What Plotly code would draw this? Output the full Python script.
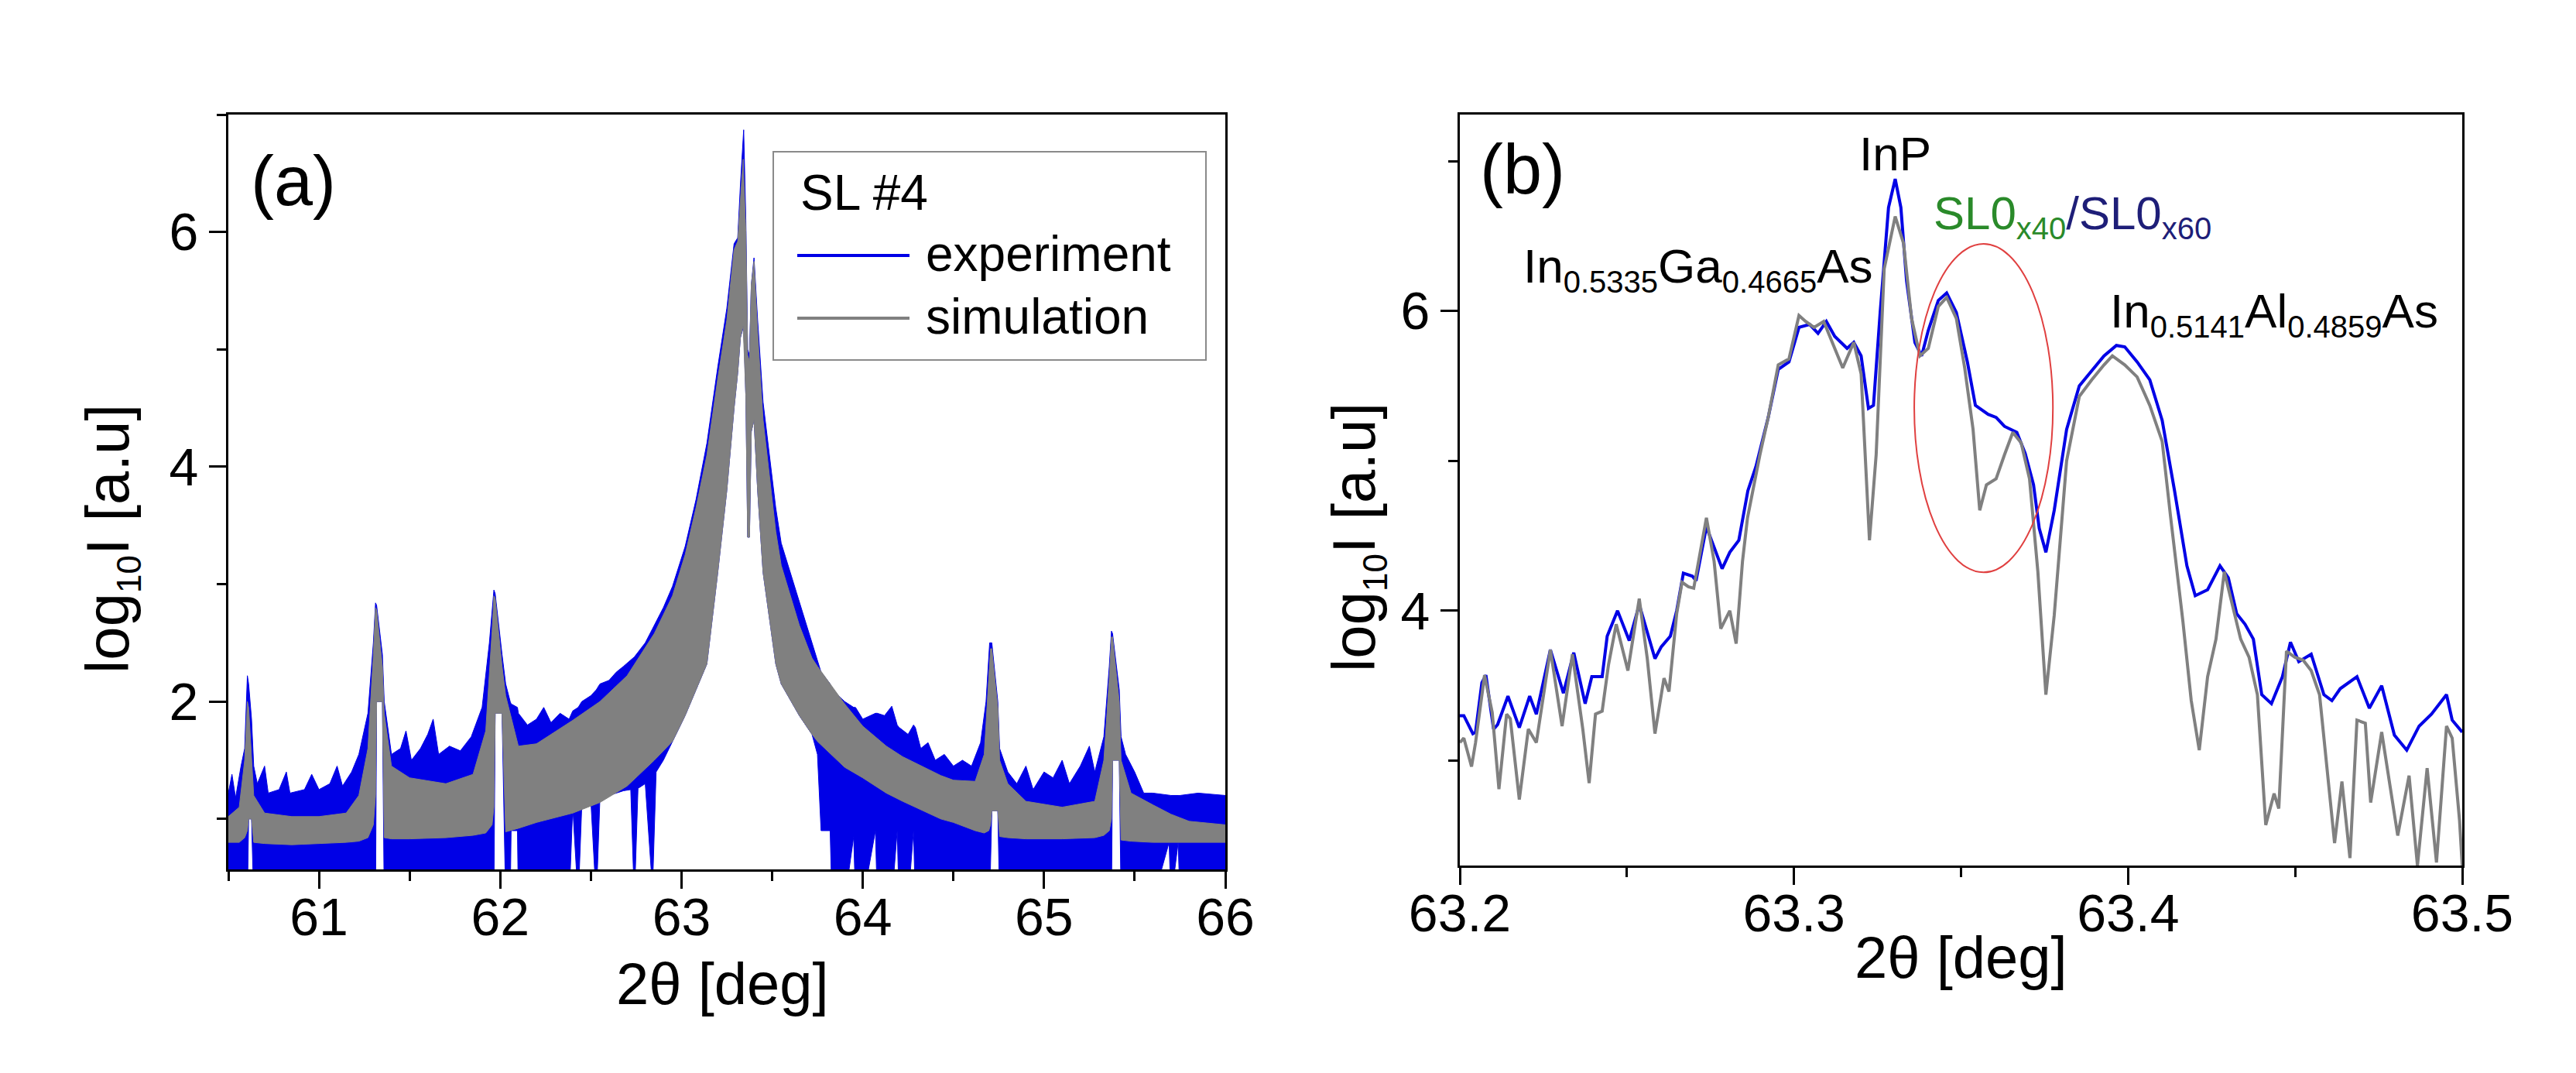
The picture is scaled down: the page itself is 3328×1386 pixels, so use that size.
import plotly.graph_objects as go

# ---- panel (a): envelopes of the dense scans (lower / upper edge of each band) ----
EXP_A_X = [60.50, 60.52, 60.54, 60.57, 60.59, 60.605, 60.612, 60.628, 60.64, 60.66,
           60.70, 60.72, 60.78, 60.82, 60.84, 60.92, 60.96, 61.00, 61.06, 61.10,
           61.13, 61.18, 61.22, 61.27, 61.30, 61.312, 61.318, 61.35, 61.36, 61.40,
           61.45, 61.48, 61.51, 61.56, 61.60, 61.63, 61.66, 61.72, 61.78, 61.84,
           61.90, 61.94, 61.965, 61.972, 62.01, 62.03, 62.055, 62.06, 62.095, 62.10,
           62.15, 62.20, 62.24, 62.28, 62.33, 62.38, 62.40, 62.43, 62.45, 62.50,
           62.53, 62.55, 62.60, 62.64, 62.68, 62.72, 62.74, 62.76, 62.80, 62.84,
           62.86, 62.90, 62.95, 63.02, 63.08, 63.14, 63.20, 63.25, 63.29, 63.31,
           63.325, 63.343, 63.355, 63.365, 63.375, 63.385, 63.40, 63.42, 63.45, 63.52,
           63.55, 63.65, 63.72, 63.75, 63.77, 63.82, 63.83, 63.90, 63.95, 63.96,
           64.00, 64.07, 64.08, 64.12, 64.16, 64.19, 64.20, 64.25, 64.28, 64.29,
           64.32, 64.36, 64.40, 64.45, 64.50, 64.55, 64.60, 64.65, 64.68, 64.70,
           64.712, 64.745, 64.755, 64.80, 64.85, 64.90, 64.94, 65.00, 65.05, 65.10,
           65.14, 65.20, 65.25, 65.28, 65.33, 65.36, 65.372, 65.378, 65.415, 65.425,
           65.45, 65.50, 65.55, 65.60, 65.69, 65.70, 65.74, 65.75, 65.85, 66.00]
EXP_A_LO = [0.30, 0.30, 0.30, 0.30, 0.30, 0.30, 1.00, 1.00, 0.30, 0.30,
            0.30, 0.30, 0.30, 0.30, 0.30, 0.30, 0.30, 0.30, 0.30, 0.30,
            0.30, 0.30, 0.30, 0.30, 0.30, 0.30, 2.00, 2.00, 0.30, 0.30,
            0.30, 0.30, 0.30, 0.30, 0.30, 0.30, 0.30, 0.30, 0.30, 0.30,
            0.30, 0.30, 0.30, 1.90, 1.90, 0.30, 0.30, 0.90, 0.90, 0.30,
            0.30, 0.30, 0.30, 0.30, 0.30, 0.30, 1.10, 0.30, 1.12, 1.15,
            0.30, 1.18, 1.20, 1.22, 1.24, 1.25, 0.30, 1.26, 1.30, 0.40,
            1.40, 1.50, 1.66, 1.88, 2.10, 2.32, 3.10, 3.80, 4.50, 4.80,
            5.10, 5.20, 4.60, 3.40, 3.40, 4.30, 4.40, 3.80, 3.10, 2.32,
            2.15, 1.88, 1.72, 1.55, 0.90, 0.90, 0.30, 0.30, 0.85, 0.30,
            0.30, 0.90, 0.30, 0.30, 0.30, 0.90, 0.30, 0.30, 0.90, 0.30,
            0.30, 0.30, 0.30, 0.30, 0.30, 0.30, 0.30, 0.30, 0.30, 0.30,
            1.07, 1.07, 0.30, 0.30, 0.30, 0.30, 0.30, 0.30, 0.30, 0.30,
            0.30, 0.30, 0.30, 0.30, 0.30, 0.30, 0.30, 1.50, 1.50, 0.30,
            0.30, 0.30, 0.30, 0.30, 0.80, 0.30, 0.80, 0.30, 0.30, 0.30]
EXP_A_HI = [1.22, 1.38, 1.18, 1.45, 1.60, 2.22, 2.15, 1.85, 1.45, 1.30,
            1.45, 1.22, 1.25, 1.40, 1.22, 1.25, 1.38, 1.25, 1.30, 1.45,
            1.28, 1.40, 1.55, 1.90, 2.50, 2.84, 2.82, 2.40, 2.00, 1.55,
            1.60, 1.75, 1.50, 1.60, 1.72, 1.85, 1.55, 1.62, 1.58, 1.70,
            1.95, 2.50, 2.95, 2.92, 2.40, 2.15, 2.00, 1.98, 1.95, 1.90,
            1.80, 1.85, 1.95, 1.82, 1.90, 1.85, 1.92, 1.95, 2.00, 2.05,
            2.10, 2.15, 2.18, 2.25, 2.30, 2.35, 2.38, 2.42, 2.50, 2.62,
            2.68, 2.80, 2.98, 3.32, 3.72, 4.20, 4.85, 5.35, 5.90, 5.95,
            6.40, 6.87, 6.10, 5.00, 4.95, 5.55, 5.78, 5.25, 4.55, 3.65,
            3.35, 2.85, 2.50, 2.35, 2.25, 2.15, 2.10, 2.00, 1.95, 1.95,
            1.85, 1.90, 1.90, 1.88, 1.96, 1.80, 1.78, 1.72, 1.80, 1.78,
            1.60, 1.65, 1.50, 1.55, 1.45, 1.50, 1.45, 1.65, 2.00, 2.50,
            2.50, 2.00, 1.60, 1.40, 1.30, 1.45, 1.25, 1.40, 1.35, 1.50,
            1.30, 1.45, 1.62, 1.40, 1.70, 2.30, 2.60, 2.58, 2.10, 1.70,
            1.55, 1.40, 1.22, 1.22, 1.20, 1.20, 1.20, 1.20, 1.22, 1.20]

SIM_A_X = [60.50, 60.56, 60.59, 60.605, 60.612, 60.628, 60.64, 60.70, 60.85, 61.00,
           61.15, 61.22, 61.27, 61.30, 61.312, 61.318, 61.35, 61.36, 61.40, 61.50,
           61.70, 61.85, 61.92, 61.955, 61.965, 61.972, 62.01, 62.03, 62.10, 62.20,
           62.40, 62.55, 62.70, 62.85, 62.95, 63.02, 63.08, 63.14, 63.20, 63.25,
           63.29, 63.31, 63.325, 63.34, 63.355, 63.365, 63.375, 63.385, 63.40, 63.42,
           63.45, 63.52, 63.55, 63.65, 63.72, 63.75, 63.90, 64.00, 64.13, 64.22,
           64.43, 64.50, 64.62, 64.67, 64.695, 64.705, 64.712, 64.745, 64.755, 64.80,
           64.90, 65.10, 65.28, 65.33, 65.36, 65.372, 65.378, 65.415, 65.425, 65.48,
           65.60, 65.70, 65.80, 66.00]
SIM_A_LO = [0.80, 0.80, 0.84, 0.90, 1.00, 1.00, 0.80, 0.79, 0.78, 0.79,
            0.80, 0.81, 0.84, 0.95, 1.20, 2.00, 2.00, 0.84, 0.83, 0.83,
            0.84, 0.86, 0.88, 0.95, 1.10, 1.90, 1.90, 0.89, 0.92, 0.97,
            1.05, 1.14, 1.28, 1.50, 1.66, 1.88, 2.10, 2.32, 3.10, 3.80,
            4.50, 4.80, 5.10, 5.20, 4.60, 3.40, 3.40, 4.30, 4.40, 3.80,
            3.10, 2.32, 2.15, 1.88, 1.72, 1.66, 1.44, 1.35, 1.22, 1.15,
            1.00, 0.97, 0.90, 0.88, 0.90, 0.95, 1.07, 1.07, 0.85, 0.84,
            0.83, 0.83, 0.84, 0.86, 0.90, 1.00, 1.50, 1.50, 0.82, 0.81,
            0.80, 0.80, 0.80, 0.80]
SIM_A_HI = [1.02, 1.10, 1.50, 2.00, 1.95, 1.50, 1.20, 1.05, 1.02, 1.02,
            1.05, 1.20, 1.60, 2.40, 2.80, 2.78, 2.30, 1.90, 1.45, 1.35,
            1.30, 1.38, 1.75, 2.60, 2.90, 2.88, 2.30, 2.05, 1.62, 1.64,
            1.84, 2.00, 2.22, 2.58, 2.90, 3.25, 3.65, 4.10, 4.75, 5.25,
            5.85, 5.92, 6.30, 6.62, 6.00, 4.95, 4.90, 5.55, 5.75, 5.15,
            4.40, 3.45, 3.16, 2.65, 2.37, 2.30, 1.98, 1.79, 1.62, 1.53,
            1.37, 1.33, 1.32, 1.55, 2.20, 2.45, 2.45, 1.95, 1.50, 1.30,
            1.15, 1.10, 1.15, 1.50, 2.20, 2.55, 2.55, 2.00, 1.50, 1.22,
            1.12, 1.04, 0.98, 0.95]

# ---- panel (b): zoom around the InP peak ----
EXP_B_X = [63.2000, 63.2012, 63.2039, 63.2047, 63.2066, 63.2078, 63.2101, 63.2113, 63.2144, 63.2178,
           63.2209, 63.2229, 63.2271, 63.2310, 63.2341, 63.2375, 63.2395, 63.2426, 63.2441, 63.2472,
           63.2507, 63.2537, 63.2584, 63.2603, 63.2630, 63.2649, 63.2669, 63.2696, 63.2707, 63.2738,
           63.2785, 63.2808, 63.2835, 63.2862, 63.2886, 63.2923, 63.2953, 63.2985, 63.3015, 63.3047,
           63.3072, 63.3097, 63.3122, 63.3159, 63.3179, 63.3201, 63.3223, 63.3238, 63.3258, 63.3283,
           63.3303, 63.3320, 63.3337, 63.3362, 63.3382, 63.3402, 63.3432, 63.3457, 63.3486, 63.3519,
           63.3543, 63.3581, 63.3605, 63.3630, 63.3667, 63.3692, 63.3717, 63.3734, 63.3754, 63.3779,
           63.3816, 63.3854, 63.3891, 63.3928, 63.3965, 63.3990, 63.4027, 63.4065, 63.4102, 63.4139,
           63.4176, 63.4201, 63.4238, 63.4275, 63.4300, 63.4325, 63.4350, 63.4375, 63.4400, 63.4429,
           63.4462, 63.4486, 63.4511, 63.4548, 63.4586, 63.4610, 63.4635, 63.4685, 63.4722, 63.4759,
           63.4797, 63.4834, 63.4871, 63.4908, 63.4953, 63.4970, 63.5000]
EXP_B_Y = [3.30, 3.30, 3.18, 3.19, 3.52, 3.57, 3.21, 3.24, 3.43, 3.22,
           3.43, 3.31, 3.74, 3.45, 3.72, 3.38, 3.56, 3.56, 3.83, 4.00,
           3.80, 4.04, 3.68, 3.76, 3.83, 4.00, 4.25, 4.23, 4.20, 4.56,
           4.28, 4.39, 4.47, 4.80, 4.96, 5.29, 5.61, 5.66, 5.89, 5.91,
           5.85, 5.93, 5.83, 5.75, 5.79, 5.70, 5.35, 5.37, 5.99, 6.69,
           6.88, 6.69, 6.20, 5.79, 5.70, 5.87, 6.07, 6.12, 5.99, 5.66,
           5.37, 5.31, 5.29, 5.23, 5.19, 5.05, 4.84, 4.55, 4.39, 4.67,
           5.21, 5.50, 5.60, 5.70, 5.77, 5.76, 5.66, 5.54, 5.27, 4.80,
           4.30, 4.10, 4.14, 4.30, 4.22, 3.98, 3.91, 3.81, 3.44, 3.38,
           3.56, 3.79, 3.66, 3.71, 3.44, 3.40, 3.48, 3.56, 3.35, 3.50,
           3.17, 3.07, 3.23, 3.31, 3.44, 3.27, 3.19]

SIM_B_X = [63.2000, 63.2012, 63.2035, 63.2047, 63.2074, 63.2097, 63.2117, 63.2140, 63.2151, 63.2178,
           63.2205, 63.2229, 63.2271, 63.2306, 63.2337, 63.2368, 63.2387, 63.2406, 63.2426, 63.2445,
           63.2468, 63.2503, 63.2537, 63.2561, 63.2584, 63.2611, 63.2626, 63.2649, 63.2665, 63.2684,
           63.2700, 63.2738, 63.2761, 63.2781, 63.2808, 63.2827, 63.2846, 63.2861, 63.2898, 63.2923,
           63.2953, 63.2985, 63.3015, 63.3035, 63.3060, 63.3089, 63.3122, 63.3146, 63.3179, 63.3201,
           63.3226, 63.3246, 63.3270, 63.3303, 63.3328, 63.3352, 63.3377, 63.3402, 63.3432, 63.3457,
           63.3486, 63.3511, 63.3536, 63.3556, 63.3576, 63.3605, 63.3630, 63.3655, 63.3680, 63.3705,
           63.3730, 63.3754, 63.3779, 63.3816, 63.3854, 63.3891, 63.3928, 63.3953, 63.3990, 63.4027,
           63.4065, 63.4102, 63.4127, 63.4164, 63.4189, 63.4213, 63.4238, 63.4263, 63.4288, 63.4313,
           63.4337, 63.4362, 63.4387, 63.4412, 63.4437, 63.4451, 63.4474, 63.4499, 63.4524, 63.4548,
           63.4573, 63.4618, 63.4640, 63.4664, 63.4685, 63.4710, 63.4726, 63.4759, 63.4807, 63.4841,
           63.4866, 63.4895, 63.4923, 63.4953, 63.4970, 63.4992, 63.5000]
SIM_B_Y = [3.12, 3.15, 2.96, 3.12, 3.57, 3.32, 2.81, 3.31, 3.28, 2.74,
           3.21, 3.12, 3.74, 3.23, 3.71, 3.21, 2.85, 3.31, 3.33, 3.64,
           3.91, 3.60, 4.08, 3.68, 3.18, 3.55, 3.46, 3.98, 4.19, 4.16,
           4.15, 4.62, 4.33, 3.88, 4.00, 3.78, 4.33, 4.62, 5.04, 5.29,
           5.64, 5.68, 5.97, 5.93, 5.89, 5.93, 5.75, 5.62, 5.79, 5.58,
           4.47, 5.04, 6.28, 6.63, 6.45, 5.95, 5.70, 5.75, 6.03, 6.09,
           5.95, 5.62, 5.21, 4.67, 4.84, 4.88, 5.04, 5.19, 5.12, 4.88,
           4.26, 3.44, 3.97, 5.00, 5.43, 5.54, 5.64, 5.70, 5.64, 5.56,
           5.37, 5.13, 4.63, 3.93, 3.40, 3.07, 3.56, 3.81, 4.26, 4.02,
           3.81, 3.69, 3.44, 2.57, 2.78, 2.68, 3.73, 3.69, 3.67, 3.60,
           3.44, 2.45, 2.86, 2.35, 3.27, 3.25, 2.72, 3.19, 2.50, 2.90,
           2.30, 2.95, 2.32, 3.23, 3.15, 2.60, 2.30]

XTICKS_A = [61, 62, 63, 64, 65, 66]
XTICKS_B = [63.2, 63.3, 63.4, 63.5]
XTICKTEXT_B = ["63.2", "63.3", "63.4", "63.5"]
YTICKS = [2, 4, 6]

# highlighted SL0 region in panel (b)
ELLIPSE_X = [63.336, 63.3775]
ELLIPSE_Y = [4.256, 6.447]

BLUE = "#0000e6"
GRAY = "#808080"
FONT = "Liberation Sans, Arial, sans-serif"
W, H = 3328, 1386


def px(x):
    return x / W


def py(y):
    return 1 - y / H


fig = go.Figure()

# panel (a): filled bands, experiment first, simulation on top
fig.add_trace(go.Scatter(x=EXP_A_X, y=EXP_A_LO, mode="lines", line=dict(color=BLUE, width=1),
                         xaxis="x", yaxis="y", showlegend=False, hoverinfo="skip"))
fig.add_trace(go.Scatter(x=EXP_A_X, y=EXP_A_HI, mode="lines", line=dict(color=BLUE, width=1),
                         fill="tonexty", fillcolor=BLUE, xaxis="x", yaxis="y", showlegend=False))
fig.add_trace(go.Scatter(x=SIM_A_X, y=SIM_A_LO, mode="lines", line=dict(color=GRAY, width=1),
                         xaxis="x", yaxis="y", showlegend=False, hoverinfo="skip"))
fig.add_trace(go.Scatter(x=SIM_A_X, y=SIM_A_HI, mode="lines", line=dict(color=GRAY, width=1),
                         fill="tonexty", fillcolor=GRAY, xaxis="x", yaxis="y", showlegend=False))

# panel (b): lines
fig.add_trace(go.Scatter(x=EXP_B_X, y=EXP_B_Y, mode="lines", line=dict(color=BLUE, width=4),
                         xaxis="x2", yaxis="y2", showlegend=False))
fig.add_trace(go.Scatter(x=SIM_B_X, y=SIM_B_Y, mode="lines", line=dict(color=GRAY, width=4),
                         xaxis="x2", yaxis="y2", showlegend=False))

axis_common = dict(showline=True, linecolor="black", linewidth=3, mirror=True,
                   ticks="outside", ticklen=22, tickwidth=3, tickcolor="black",
                   showgrid=False, zeroline=False, automargin=False,
                   tickfont=dict(family=FONT, size=68, color="black"))

fig.update_layout(
    template="none",
    width=W, height=H,
    margin=dict(l=0, r=0, t=0, b=0, pad=0),
    paper_bgcolor="white", plot_bgcolor="white",
    font=dict(family=FONT, color="black"),
    xaxis=dict(domain=[px(287), px(1575)], range=[60.5, 66], anchor="y",
               tickvals=XTICKS_A, ticklabelstandoff=-22,
               minor=dict(dtick=0.5, ticks="outside", ticklen=12, tickwidth=3, tickcolor="black"),
               **axis_common),
    yaxis=dict(domain=[py(1115), py(140)], range=[0.57, 7.0], anchor="x",
               tickvals=YTICKS,
               minor=dict(dtick=1, ticks="outside", ticklen=12, tickwidth=3, tickcolor="black"),
               **axis_common),
    xaxis2=dict(domain=[px(1878), px(3173)], range=[63.2, 63.5], anchor="y2",
                tickvals=XTICKS_B, ticktext=XTICKTEXT_B, ticklabelstandoff=-22,
                minor=dict(dtick=0.05, tick0=63.2, ticks="outside", ticklen=12, tickwidth=3,
                           tickcolor="black"),
                **axis_common),
    yaxis2=dict(domain=[py(1110), py(140)], range=[2.3, 7.31], anchor="x2",
                tickvals=YTICKS,
                minor=dict(dtick=1, ticks="outside", ticklen=12, tickwidth=3, tickcolor="black"),
                **axis_common),
)

SUB = "<sub><span style='font-size:40px'>{}</span></sub>"
YTITLE = "log<sub><span style='font-size:44px'>10</span></sub>I [a.u]"

annotations = [
    # panel labels
    dict(text="(a)", x=px(371), y=py(226), font=dict(size=90)),
    dict(text="(b)", x=px(1959), y=py(211), font=dict(size=90)),
    # axis titles
    dict(text="2θ [deg]", x=px(925), y=py(1262), font=dict(size=76)),
    dict(text="2θ [deg]", x=px(2525), y=py(1228), font=dict(size=76)),
    dict(text=YTITLE, x=px(135), y=py(688), textangle=-90, font=dict(size=78)),
    dict(text=YTITLE, x=px(1745), y=py(686), textangle=-90, font=dict(size=78)),
    # legend texts
    dict(text="SL #4", x=px(1024), y=py(241), xanchor="left", font=dict(size=64)),
    dict(text="experiment", x=px(1186), y=py(320), xanchor="left", font=dict(size=64)),
    dict(text="simulation", x=px(1186), y=py(401), xanchor="left", font=dict(size=64)),
    # peak labels in (b)
    dict(text="InP", x=px(2440), y=py(190), font=dict(size=62)),
    dict(text="In" + SUB.format("0.5335") + "Ga" + SUB.format("0.4665") + "As",
         x=px(1958), y=py(339), xanchor="left", font=dict(size=62)),
    dict(text="<span style='color:#2a8a2a'>SL0" + SUB.format("x40") + "</span>"
              "<span style='color:#1e1e78'>/SL0" + SUB.format("x60") + "</span>",
         x=px(2488), y=py(271), xanchor="left", font=dict(size=60)),
    dict(text="In" + SUB.format("0.5141") + "Al" + SUB.format("0.4859") + "As",
         x=px(2716), y=py(397), xanchor="left", font=dict(size=62)),
]
for a in annotations:
    a.setdefault("xanchor", "center")
    a.setdefault("yanchor", "middle")
    a.update(xref="paper", yref="paper", showarrow=False)
    a["font"] = dict(family=FONT, color="black", **a["font"])
fig.update_layout(annotations=annotations)

shapes = [
    # legend frame and samples
    dict(type="rect", xref="paper", yref="paper", x0=px(991), x1=px(1550), y0=py(457), y1=py(188),
         line=dict(color="#8a8a8a", width=2), fillcolor="white", layer="above"),
    dict(type="line", xref="paper", yref="paper", x0=px(1022), x1=px(1167), y0=py(322), y1=py(322),
         line=dict(color=BLUE, width=4)),
    dict(type="line", xref="paper", yref="paper", x0=px(1022), x1=px(1167), y0=py(403), y1=py(403),
         line=dict(color=GRAY, width=4)),
    # ellipse in (b)
    dict(type="circle", xref="x2", yref="y2", x0=ELLIPSE_X[0], x1=ELLIPSE_X[1],
         y0=ELLIPSE_Y[0], y1=ELLIPSE_Y[1], line=dict(color="#e04040", width=2)),
]
fig.update_layout(shapes=shapes)

fig.write_html("out.html")
